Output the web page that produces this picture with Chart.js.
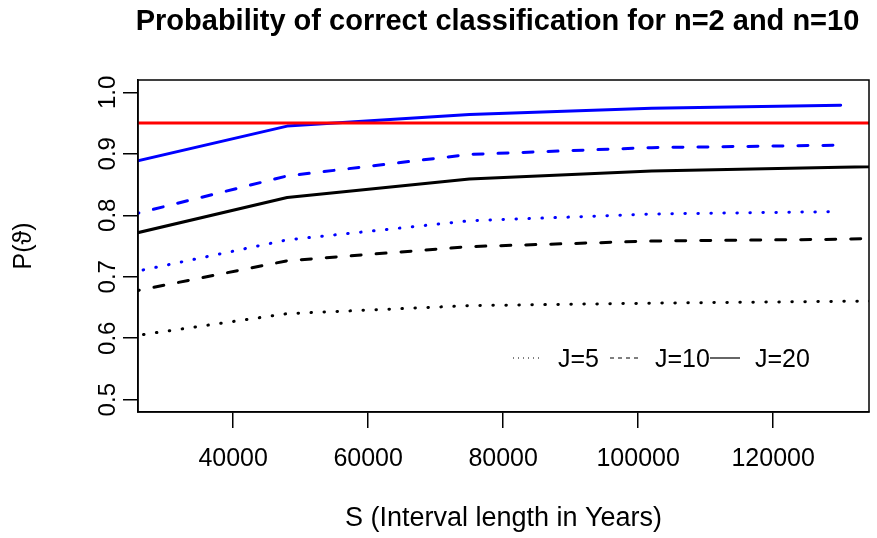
<!DOCTYPE html>
<html>
<head>
<meta charset="utf-8">
<script src="https://cdn.jsdelivr.net/npm/chart.js@4.4.1/dist/chart.umd.min.js"></script>
<style>
  html, body { margin: 0; padding: 0; background: #fff; }
  #wrap { width: 877px; height: 538px; }
</style>
</head>
<body>
<div id="wrap"><canvas id="probChart" width="877" height="538"></canvas></div>
<script>
// S values (interval length in years) where the probabilities were evaluated
var sYears = [21000, 48000, 75000, 102000, 130000];
var sYearsN2 = [21000, 48000, 75000, 102000, 130000, 157000];

// n=10 (blue)
var n10J20 = [0.876, 0.945, 0.964, 0.974, 0.979];
var n10J10 = [0.790, 0.864, 0.899, 0.910, 0.914];
var n10J5 = [0.698, 0.760, 0.791, 0.802, 0.806];

// n=2 (black)
var n2J20 = [0.759, 0.829, 0.859, 0.872, 0.878, 0.884];
var n2J10 = [0.667, 0.726, 0.749, 0.758, 0.761, 0.768];
var n2J5 = [0.597, 0.640, 0.653, 0.657, 0.660, 0.662];

// reference level
var targetLevel = 0.95;
var targetSpan = [0, 200000];

var xTicks = [40000, 60000, 80000, 100000, 120000];
var yTicks = [0.5, 0.6, 0.7, 0.8, 0.9, 1.0];
var legendLabels = ['J=5', 'J=10', 'J=20'];

var FONT = '"Liberation Sans", Arial, Helvetica, sans-serif';

function pts(xs, ys) {
    return ys.map(function(y, i) { return { x: xs[i], y: y }; });
}

function series(xs, ys, color, dash) {
    return {
        data: pts(xs, ys),
        borderColor: color,
        borderWidth: 3,
        borderDash: dash,
        borderCapStyle: 'round',
        borderJoinStyle: 'round',
        pointRadius: 0,
        fill: false,
        tension: 0
    };
}

var DOTTED = [0.5, 12.5];
var DASHED = [10, 15];

var datasets = [
    series(sYearsN2, n2J5, '#000000', DOTTED),
    series(sYearsN2, n2J10, '#000000', DASHED),
    series(sYearsN2, n2J20, '#000000', []),
    series(sYears, n10J5, '#0000ff', DOTTED),
    series(sYears, n10J10, '#0000ff', DASHED),
    series(sYears, n10J20, '#0000ff', []),
    series(targetSpan, targetSpan.map(function() { return targetLevel; }), '#ff0000', [])
];
datasets[6].borderCapStyle = 'butt';
datasets.forEach(function(d, i) { d.order = datasets.length - i; });

// box, rotated y labels, legend and main title, R style
var rDecor = {
    id: 'rDecor',
    afterDraw: function(chart) {
        var ctx = chart.ctx;
        var a = chart.chartArea;
        var yScale = chart.scales.y;
        ctx.save();

        ctx.strokeStyle = '#000';
        ctx.lineWidth = 1.5;
        ctx.strokeRect(a.left, a.top, a.right - a.left, a.bottom - a.top);

        ctx.fillStyle = '#000';
        ctx.font = '24px ' + FONT;
        ctx.textAlign = 'center';
        ctx.textBaseline = 'middle';
        yTicks.forEach(function(v) {
            var py = yScale.getPixelForValue(v);
            ctx.save();
            ctx.translate(a.left - 30, py);
            ctx.rotate(-Math.PI / 2);
            ctx.fillText(v.toFixed(1), 0, 0);
            ctx.restore();
        });

        // legend (horizontal, no box)
        var legendDash = [[1, 4], [4, 4], []];
        var legendX = [375, 472, 572];
        var ly = a.bottom - 54;
        ctx.font = '25px ' + FONT;
        ctx.textAlign = 'left';
        legendLabels.forEach(function(lbl, i) {
            var x0 = a.left + legendX[i];
            ctx.beginPath();
            ctx.setLineDash(legendDash[i]);
            ctx.lineWidth = 1.2;
            ctx.strokeStyle = '#000';
            ctx.moveTo(x0, ly);
            ctx.lineTo(x0 + 30, ly);
            ctx.stroke();
            ctx.setLineDash([]);
            ctx.fillText(lbl, x0 + 45, ly + 2);
        });

        ctx.font = 'bold 29px ' + FONT;
        ctx.textAlign = 'center';
        ctx.fillText('Probability of correct classification for n=2 and n=10', (a.left + a.right) / 2 - 6, 22);
        ctx.restore();
    }
};

var ctx = document.getElementById('probChart').getContext('2d');
var probChart = new Chart(ctx, {
    type: 'line',
    data: { datasets: datasets },
    plugins: [rDecor],
    options: {
        responsive: false,
        animation: false,
        layout: { padding: { top: 80, right: 8, left: 0, bottom: 0 } },
        plugins: {
            legend: { display: false },
            tooltip: { enabled: false }
        },
        scales: {
            x: {
                type: 'linear',
                min: 25900,
                max: 134200,
                afterFit: function(scale) { scale.height = 126; },
                afterBuildTicks: function(scale) {
                    scale.ticks = xTicks.map(function(v) { return { value: v }; });
                },
                grid: {
                    display: true,
                    drawOnChartArea: false,
                    drawTicks: true,
                    tickLength: 16,
                    color: '#000',
                    lineWidth: 1.5
                },
                border: { display: true, color: '#000', width: 1.5 },
                ticks: {
                    color: '#000',
                    font: { family: FONT, size: 25 },
                    padding: 16,
                    maxRotation: 0,
                    autoSkip: false,
                    callback: function(v) { return String(v); }
                },
                title: {
                    display: true,
                    text: 'S (Interval length in Years)',
                    color: '#000',
                    font: { family: FONT, size: 27 },
                    padding: { top: 0, bottom: 3 }
                }
            },
            y: {
                min: 0.48,
                max: 1.02,
                afterFit: function(scale) { scale.width = 138; },
                afterBuildTicks: function(scale) {
                    scale.ticks = yTicks.map(function(v) { return { value: v }; });
                },
                grid: {
                    display: true,
                    drawOnChartArea: false,
                    drawTicks: true,
                    tickLength: 15,
                    color: '#000',
                    lineWidth: 1.5
                },
                border: { display: true, color: '#000', width: 1.5 },
                ticks: { display: false },
                title: {
                    display: true,
                    text: 'P(ϑ)',
                    color: '#000',
                    font: { family: FONT, size: 25 },
                    padding: { top: 9, bottom: 0 }
                }
            }
        }
    }
});
</script>
</body>
</html>
